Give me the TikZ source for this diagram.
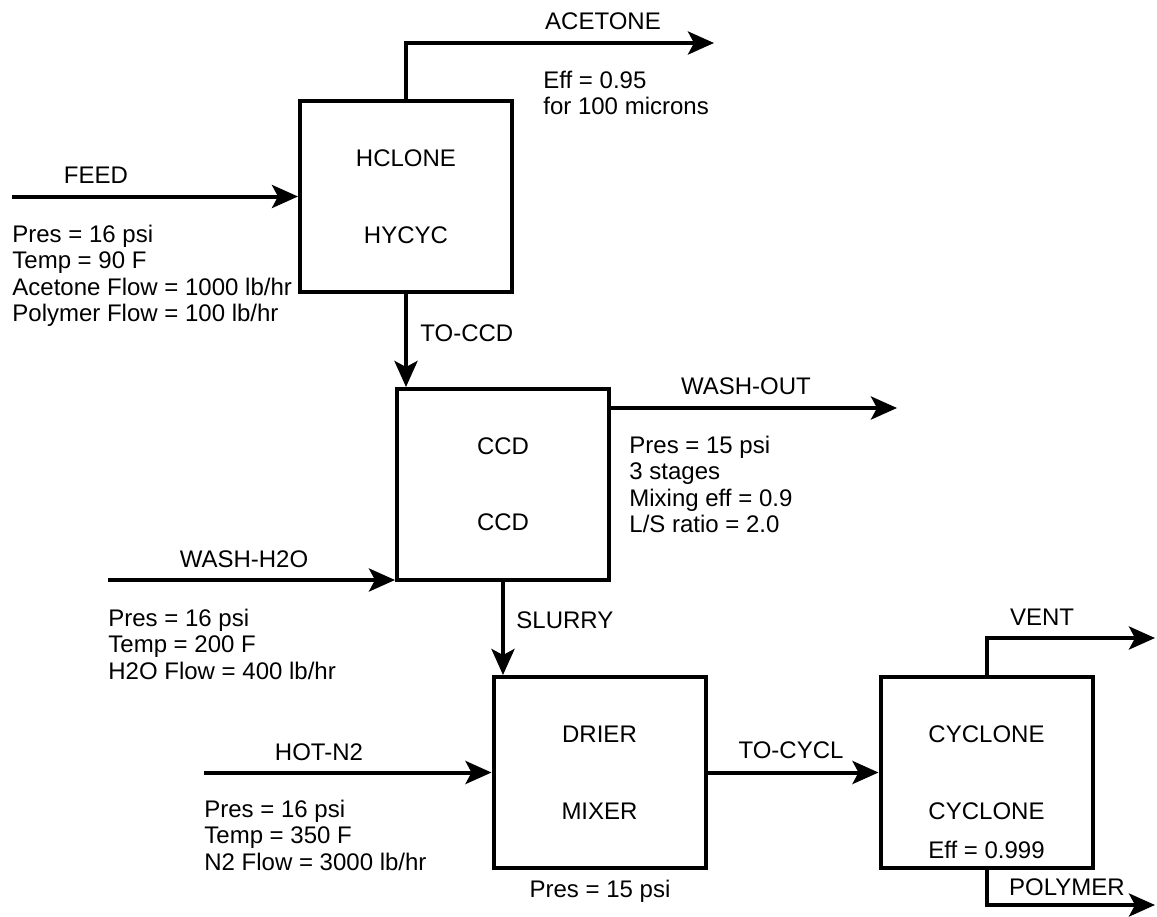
\documentclass[tikz,border=0pt]{standalone}
\usepackage{fontspec}
\setmainfont{Liberation Sans}
\usetikzlibrary{arrows.meta}

\begin{document}
\begin{tikzpicture}[x=0.5pt, y=-0.5pt,
  every node/.style={font=\fontsize{12}{13.3}\selectfont},
  blockbox/.style={draw, line width=2pt, minimum width=106pt, minimum height=95.5pt, inner sep=0pt},
  flowline/.style={line width=2pt, -{Stealth[length=13pt, width=11.5pt, inset=3pt]}},
  info/.style={anchor=north west, align=left, inner sep=0pt}]
  \useasboundingbox (0,0) rectangle (1157,916);
  % units
  \node[blockbox] (hcl) at (406,196.5) {};
  \node[blockbox] (ccd) at (503,484.5) {};
  \node[blockbox] (dry) at (599.5,772.5) {};
  \node[blockbox] (cyc) at (986.5,772.5) {};
  \node (hclA) at ([yshift=19.25pt]hcl.center) {HCLONE};
  \node (hclB) at ([yshift=-19.25pt]hcl.center) {HYCYC};
  \node (ccdA) at ([yshift=19pt]ccd.center) {CCD};
  \node (ccdB) at ([yshift=-19pt]ccd.center) {CCD};
  \node (dryA) at ([yshift=19.25pt]dry.center) {DRIER};
  \node (dryB) at ([yshift=-19.25pt]dry.center) {MIXER};
  \node (cycA) at ([yshift=19.25pt]cyc.center) {CYCLONE};
  \node (cycB) at ([yshift=-19.25pt]cyc.center) {CYCLONE};
  \node (cycE) at ([yshift=-38.75pt]cyc.center) {Eff = 0.999};
  \node (dryP) at (600,891.5) {Pres = 15 psi};
  % stream ends
  \coordinate (feed) at (12,196.5);
  \coordinate (acet) at (714,43);
  \coordinate (wout) at (897,408);
  \coordinate (wash) at (108,580);
  \coordinate (hotn) at (204,772.5);
  \coordinate (vent) at (1155,638);
  \coordinate (poly) at (1155,905);
  % streams
  \draw[flowline] (feed) -- (hcl.west);
  \draw[flowline] (hcl.north) |- (acet);
  \draw[flowline] (hcl.south) -- (hcl.south |- ccd.north);
  \draw[flowline] (ccd.east |- wout) -- (wout);
  \draw[flowline] (wash) -- (wash -| ccd.west);
  \draw[flowline] (ccd.south) -- (ccd.south |- dry.north);
  \draw[flowline] (hotn) -- (dry.west);
  \draw[flowline] (dry.east) -- (cyc.west);
  \draw[flowline] (cyc.north) |- (vent);
  \draw[flowline] (cyc.south) |- (poly);
  % stream labels
  \node (lbFeed) at (96,175) {FEED};
  \node (lbAcet) at (603,21) {ACETONE};
  \node[anchor=west, inner sep=0pt] (lbToccd) at (420,333) {TO-CCD};
  \node (lbWout) at (746,386) {WASH-OUT};
  \node (lbWash) at (244,559) {WASH-H2O};
  \node[anchor=west, inner sep=0pt] (lbSlurry) at (516,620) {SLURRY};
  \node (lbHotn) at (319,752) {HOT-N2};
  \node (lbTocycl) at (791,750) {TO-CYCL};
  \node (lbVent) at (1042,617) {VENT};
  \node (lbPoly) at (1067,887) {POLYMER};
  % conditions
  \node[info] (feedInfo) at (12,224.4) {Pres = 16 psi\\Temp = 90 F\\Acetone Flow = 1000 lb/hr\\Polymer Flow = 100 lb/hr};
  \node[info] (hclInfo) at (543,70.4) {Eff = 0.95\\for 100 microns};
  \node[info] (ccdInfo) at (629,435.4) {Pres = 15 psi\\3 stages\\Mixing eff = 0.9\\L/S ratio = 2.0};
  \node[info] (washInfo) at (108,608.4) {Pres = 16 psi\\Temp = 200 F\\H2O Flow = 400 lb/hr};
  \node[info] (hotnInfo) at (204,799.4) {Pres = 16 psi\\Temp = 350 F\\N2 Flow = 3000 lb/hr};
\end{tikzpicture}
\end{document}
